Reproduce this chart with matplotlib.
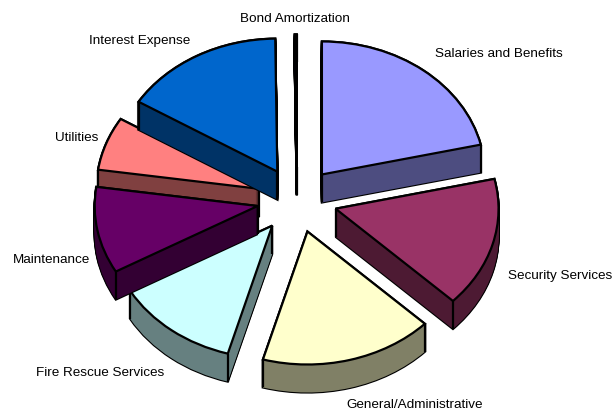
import math
import numpy as np
import matplotlib
matplotlib.use('Agg')
import matplotlib.pyplot as plt

plt.rcParams['font.family'] = ['Liberation Sans', 'DejaVu Sans']

# 各项费用占比(从图上估计)
labels = ['Salaries and Benefits', 'Security Services', 'General/Administrative',
          'Fire Rescue Services', 'Maintenance', 'Utilities', 'Interest Expense',
          'Bond Amortization']
values = [21.4, 15.8, 17.2, 12.4, 10.5, 6.5, 16.0, 0.2]
colors = ['#9999ff', '#993366', '#ffffcc', '#ccffff', '#660066', '#ff8080', '#0066cc', '#000080']
side_colors = ['#4d4d80', '#4d1a33', '#808066', '#668080', '#330033', '#804040', '#003366', '#000040']

# 前后遮挡顺序,数字大的在上面
order = [1, 2, 3, 4, 6, 5, 7, 0]

W, H = 615, 412
rx, ry = 163, 133      # 椭圆半轴,像素
cx, cy = 297, 200      # 饼的中心,像素(从上往下)
depth = 28 / ry
explode = [40 / rx] * len(values)

fig = plt.figure(figsize=(6.15, 4.12), dpi=100)
ax = fig.add_axes([0, 0, 1, 1])


def layer(offset, cols, **wp):
    w, _ = ax.pie(values, explode=explode, colors=cols, startangle=90, counterclock=False,
                  center=(0, -offset), radius=1, frame=True, wedgeprops=wp)
    return w


# 黑色外轮廓
for d in np.linspace(depth, 0, 29):
    for i, w in enumerate(layer(d, ['black'] * 8, edgecolor='black', linewidth=1.6)):
        w.set_zorder(order[i] * 10 + 1)
# 侧面
for d in np.linspace(depth, 0, 29):
    for i, w in enumerate(layer(d, side_colors, edgecolor='none', linewidth=0)):
        w.set_zorder(order[i] * 10 + 2)
# 顶面
top = layer(0, colors, edgecolor='black', linewidth=1.6)
for i, w in enumerate(top):
    w.set_zorder(order[i] * 10 + 4)
    # 棱线
    x0, y0 = w.center
    pts = [(x0, y0)]
    for t in (w.theta1, w.theta2):
        pts.append((x0 + math.cos(math.radians(t)), y0 + math.sin(math.radians(t))))
    for x, y in pts:
        ax.plot([x, x], [y, y - depth], color='black', lw=1.6, zorder=order[i] * 10 + 3,
                solid_capstyle='butt')

ax.set_aspect('auto')
ax.set_xlim(-cx / rx, (W - cx) / rx)
ax.set_ylim((cy - H) / ry, cy / ry)
ax.axis('off')

label_xy = [(499, 54), (560, 276), (415, 405), (100, 373), (51, 260), (77, 138), (140, 41), (295, 19)]
for name, (x, y) in zip(labels, label_xy):
    fig.text(x / W, 1 - y / H, name, fontsize=9.7, ha='center', va='center', color='black')

fig.savefig('out.png', dpi=100)
